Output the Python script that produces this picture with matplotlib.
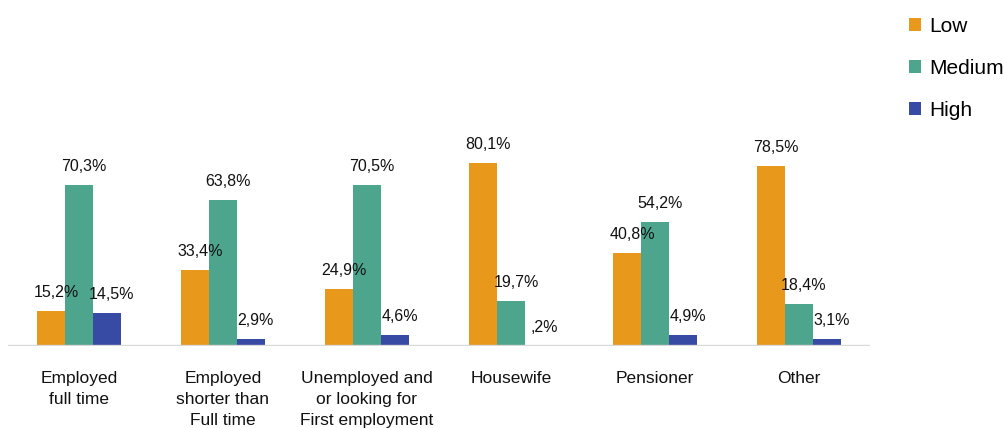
import matplotlib
matplotlib.use("Agg")
import matplotlib.pyplot as plt
import numpy as np

plt.rcParams['font.family'] = ['Liberation Sans', 'DejaVu Sans']

categories = ["Employed\nfull time", "Employed\nshorter than\nFull time",
              "Unemployed and\nor looking for\nFirst employment", "Housewife",
              "Pensioner", "Other"]
series_names = ["Low", "Medium", "High"]
low = [15.2, 33.4, 24.9, 80.1, 40.8, 78.5]
medium = [70.3, 63.8, 70.5, 19.7, 54.2, 18.4]
high = [14.5, 2.9, 4.6, 0.2, 4.9, 3.1]
labels_low = ["15,2%", "33,4%", "24,9%", "80,1%", "40,8%", "78,5%"]
labels_medium = ["70,3%", "63,8%", "70,5%", "19,7%", "54,2%", "18,4%"]
labels_high = ["14,5%", "2,9%", "4,6%", ",2%", "4,9%", "3,1%"]

colors = ["#E8981A", "#4DA58E", "#374BA5"]

W, H = 1004, 428
fig = plt.figure(figsize=(W / 100, H / 100), dpi=100)
base_px = 346
ax = fig.add_axes([8 / W, (H - base_px) / H, 862 / W, base_px / H])
px_per_pct = 2.29
ax.set_ylim(0, base_px / px_per_pct)
ax.set_xlim(-0.493, 5.493)

x = np.arange(len(categories))
bw = 0.194
series = [low, medium, high]
labels = [labels_low, labels_medium, labels_high]
handles = []
for i, (vals, labs, c) in enumerate(zip(series, labels, colors)):
    pos = x + (i - 1) * bw
    b = ax.bar(pos, vals, width=bw, color=c, label=series_names[i], zorder=2)
    handles.append(b)
    for p, v, t in zip(pos, vals, labs):
        ax.annotate(t, (p, v), xytext=(5, 11), textcoords="offset pixels",
                    ha="center", va="bottom", fontsize=11.5, color="#111111")

for s in ax.spines.values():
    s.set_visible(False)
ax.axhline(0, color="#d9d9d9", lw=2.4, zorder=3)
ax.set_yticks([])
ax.set_xticks(x)
ax.set_xticklabels(categories, fontsize=12.5, linespacing=1.5, color="#111111", va="top")
ax.tick_params(axis="x", length=0, pad=18)

fig.legend(handles=handles, labels=series_names, loc="upper left",
           bbox_to_anchor=(909 / W, 1 - 17 / H), frameon=False, fontsize=15,
           handlelength=0.58, handleheight=0.58, handletextpad=0.38,
           labelspacing=1.1, borderpad=0, borderaxespad=0)

fig.savefig("out.png", dpi=100)
